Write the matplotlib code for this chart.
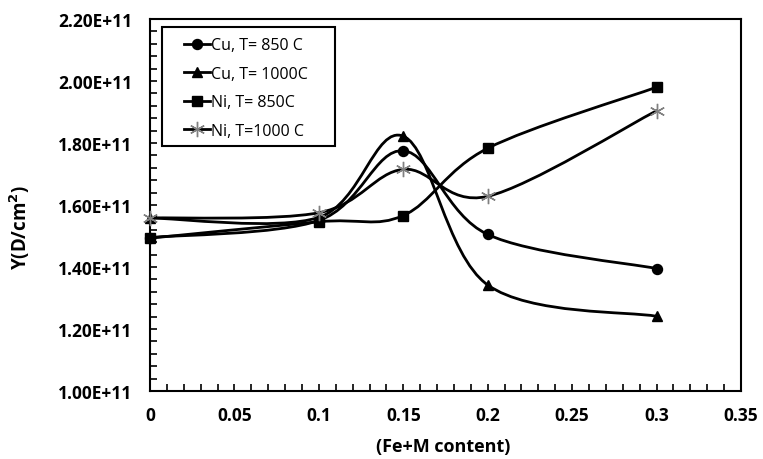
import numpy as np
import matplotlib
matplotlib.use("Agg")
import matplotlib.pyplot as plt
from matplotlib.path import Path
from matplotlib.patches import PathPatch, Rectangle
from matplotlib.lines import Line2D
from matplotlib.ticker import MultipleLocator, FuncFormatter

plt.rcParams['font.family'] = ['Open Sans', 'DejaVu Sans']

x_content = [0.0, 0.1, 0.15, 0.2, 0.3]
cu_850 = [1.495e11, 1.550e11, 1.775e11, 1.505e11, 1.395e11]
cu_1000 = [1.558e11, 1.560e11, 1.822e11, 1.342e11, 1.241e11]
ni_850 = [1.493e11, 1.546e11, 1.566e11, 1.783e11, 1.980e11]
ni_1000 = [1.558e11, 1.575e11, 1.715e11, 1.628e11, 1.904e11]

series_labels = ["Cu, T= 850 C", "Cu, T= 1000C", "Ni, T= 850C", "Ni, T=1000 C"]
y_ticks = [1.0e11, 1.2e11, 1.4e11, 1.6e11, 1.8e11, 2.0e11, 2.2e11]
x_ticks = [0, 0.05, 0.1, 0.15, 0.2, 0.25, 0.3, 0.35]

W, H = 763, 460


def smooth_path(xs, ys):
    """Cubic Bezier through the points with Catmull-Rom style handles."""
    p = np.column_stack([xs, ys]).astype(float)
    n = len(p)
    verts = [p[0]]
    codes = [Path.MOVETO]
    for i in range(n - 1):
        p0 = p[i - 1] if i > 0 else p[i]
        p1 = p[i]
        p2 = p[i + 1]
        p3 = p[i + 2] if i + 2 < n else p[i + 1]
        c1 = p1 + (p2 - p0) / 6.0
        c2 = p2 - (p3 - p1) / 6.0
        verts += [c1, c2, p2]
        codes += [Path.CURVE4] * 3
    return Path(verts, codes)


fig = plt.figure(figsize=(W / 100, H / 100), dpi=100)
ax = fig.add_axes([150 / W, 1 - 392 / H, (741 - 150) / W, (392 - 20) / H])

styles = [
    dict(marker='o', ms=7.2, mfc='black', mec='black', mew=1),
    dict(marker='^', ms=7.8, mfc='black', mec='black', mew=1),
    dict(marker='s', ms=7.0, mfc='black', mec='black', mew=1),
    dict(marker=(6, 2, 0), ms=11, mfc='none', mec='#808080', mew=1.0),
]
all_series = [cu_850, cu_1000, ni_850, ni_1000]

handles = []
for ys, st, lab in zip(all_series, styles, series_labels):
    patch = PathPatch(smooth_path(x_content, ys), facecolor='none',
                      edgecolor='black', lw=2.0, zorder=2, capstyle='round')
    ax.add_patch(patch)
    ax.plot(x_content, ys, linestyle='none', zorder=3, clip_on=False, **st)
    handles.append(Line2D([], [], color='black', lw=2.0, **st))

ax.set_xlim(0, 0.35)
ax.set_ylim(1.0e11, 2.2e11)
ax.set_xticks(x_ticks)
ax.set_yticks(y_ticks)
ax.xaxis.set_minor_locator(MultipleLocator(0.01))
ax.yaxis.set_minor_locator(MultipleLocator(0.04e11))
ax.xaxis.set_major_formatter(FuncFormatter(lambda v, p: f"{v:g}"))
ax.yaxis.set_major_formatter(FuncFormatter(lambda v, p: f"{v / 1e11:.2f}E+11"))

ax.tick_params(which='both', direction='in', length=5, width=1.2, color='black')
ax.tick_params(axis='both', which='major', labelsize=12.5)
ax.tick_params(axis='x', which='major', pad=11)
ax.tick_params(axis='y', which='major', pad=13)
for lbl in ax.get_xticklabels() + ax.get_yticklabels():
    lbl.set_fontweight('bold')

for sp in ax.spines.values():
    sp.set_linewidth(1.5)
    sp.set_color('black')

fig.text(443 / W, 1 - 447 / H, "(Fe+M content)", fontsize=13,
         fontweight='bold', ha='center', va='center')
fig.text(20 / W, 1 - 227 / H, "Y(D/cm$^\\mathbf{2}$)", fontsize=13.5,
         fontweight='bold', ha='center', va='center', rotation=90)

# legend box
fig.add_artist(Rectangle((162 / W, 1 - 147 / H), (335 - 162) / W, (147 - 28) / H,
                         transform=fig.transFigure, facecolor='white',
                         edgecolor='black', lw=1.5, zorder=4))
leg = fig.legend(handles, series_labels, loc='upper left',
                 bbox_to_anchor=(184 / W, 1 - 38.5 / H), fontsize=11.5,
                 frameon=False, handlelength=1.6, handletextpad=0.1,
                 labelspacing=0.78, borderpad=0, borderaxespad=0)
leg.set_zorder(5)

fig.savefig("out.png", dpi=100)
